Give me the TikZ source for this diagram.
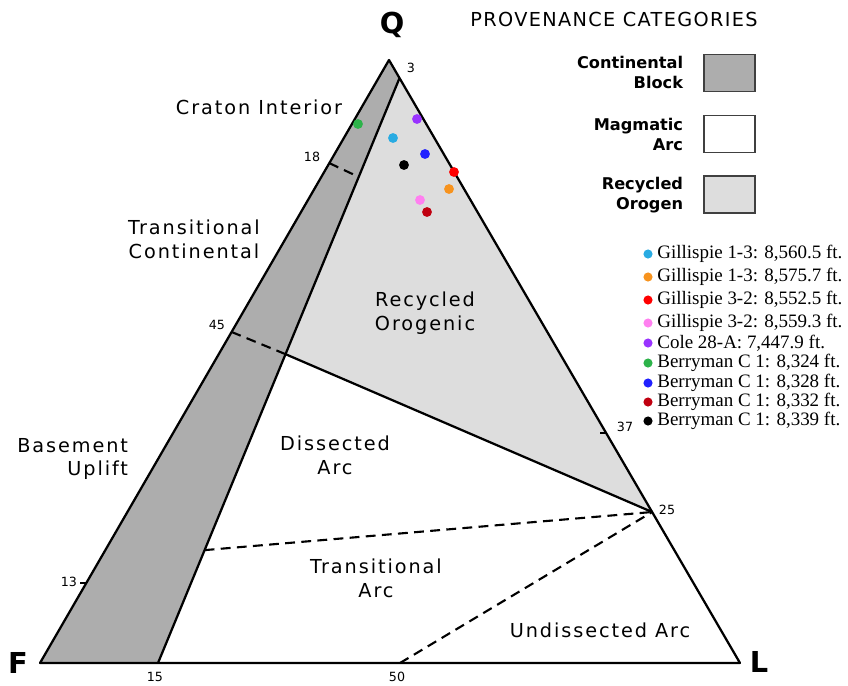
\documentclass[tikz,border=0pt]{standalone}
\usepackage{fontspec}
\setmainfont{DejaVu Sans}
\newfontfamily\keyfont{Liberation Serif}
\usetikzlibrary{calc}
\definecolor{block}{HTML}{ADADAD}
\definecolor{orogen}{HTML}{DDDDDD}
\definecolor{ptcyan}{HTML}{29ABE2}
\definecolor{ptorange}{HTML}{F7931E}
\definecolor{ptred}{HTML}{FF0000}
\definecolor{ptpink}{HTML}{FF80F0}
\definecolor{ptpurple}{HTML}{9933FF}
\definecolor{ptgreen}{HTML}{2DB34A}
\definecolor{ptblue}{HTML}{2020FF}
\definecolor{ptdarkred}{HTML}{C00010}
\tikzset{
  edge/.style={draw=black, line width=1.6pt, line join=round},
  split/.style={draw=black, line width=1.5pt, dash pattern=on 7pt off 4.5pt},
  tick/.style={draw=black, line width=1.1pt},
  dot/.style={circle, inner sep=0pt, minimum size=7pt},
  keydot/.style={circle, inner sep=0pt, minimum size=6.5pt},
  corner/.style={font=\bfseries\fontsize{20.5}{24}\selectfont},
  num/.style={font=\fontsize{9}{11}\selectfont, inner sep=1pt},
  region/.style={font=\fontsize{13.7}{17}\selectfont\addfontfeatures{LetterSpace=10}, align=center},
  heading/.style={font=\fontsize{13.7}{17}\selectfont\addfontfeatures{LetterSpace=7}},
  cat/.style={font=\bfseries\fontsize{11.5}{14.2}\selectfont, align=right, anchor=east},
  swatch/.style={draw=black!75, line width=0.9pt, minimum width=36.3pt, minimum height=26.3pt, inner sep=0pt},
  key/.style={font=\keyfont\fontsize{13.5}{15}\selectfont, inner sep=1.5pt, label distance=1.5pt},
}
\begin{document}
\begin{tikzpicture}[x=0.025cm, y=-0.025cm]
  \useasboundingbox (0,0) rectangle (848,685);
  % triangle corners
  \coordinate (Q) at (389,60);
  \coordinate (F) at (40,663);
  \coordinate (L) at (740,663);
  % boundary points
  \coordinate (T3) at ($(Q)!0.03!(L)$);
  \coordinate (B15) at (158,663);
  \coordinate (P25) at ($(Q)!0.7496!(L)$);
  \coordinate (P37) at ($(Q)!0.619!(L)$);
  \coordinate (B50) at (400,663);
  \coordinate (O18) at ($(Q)!0.171!(F)$);
  \coordinate (O45) at ($(Q)!0.451!(F)$);
  \coordinate (O13) at ($(Q)!0.867!(F)$);
  \coordinate (I18) at ($(T3)!0.169!(B15)$);
  \coordinate (I45) at ($(T3)!0.472!(B15)$);
  \coordinate (I80) at ($(T3)!0.807!(B15)$);

  \fill[block] (Q) -- (T3) -- (B15) -- (F) -- cycle;
  \fill[orogen] (T3) -- (P25) -- (I45) -- cycle;
  \draw[edge] (Q) -- (F) -- (L) -- cycle;
  \draw[edge] (T3) -- (B15);
  \draw[edge] (I45) -- (P25);
  \draw[split] (O18) -- (I18);
  \draw[split] (O45) -- (I45);
  \draw[split] (I80) -- (P25);
  \draw[split] (B50) -- (P25);
  \draw[tick] (O13) -- ++(-6,0);
  \draw[tick] (P37) -- ++(-6,0);

  \node[corner] (q) at (392,25) {Q};
  \node[corner] (f) at (18,663) {F};
  \node[corner] (l) at (759,662) {L};

  \node[num] (n3) at (411,68) {3};
  \node[num] (n18) at (312,157) {18};
  \node[num] (n45) at (217,325) {45};
  \node[num] (n37) at (625,427) {37};
  \node[num] (n25) at (667,510) {25};
  \node[num] (n13) at (69,582) {13};
  \node[num] (n15) at (155,677) {15};
  \node[num] (n50) at (397,677) {50};

  \node[region] (craton) at (259,107) {Craton Interior};
  \node[region] (transcont) at (194,239) {Transitional\\Continental};
  \node[region] (recyc) at (425,313) {Recycled\\Orogenic};
  \node[region, align=right, anchor=east] (basement) at (133,459) {Basement\\Uplift};
  \node[region] (dissected) at (335,455) {Dissected\\Arc};
  \node[region] (transarc) at (376,578) {Transitional\\Arc};
  \node[region] (undiss) at (600,630) {Undissected Arc};

  % legend
  \node[heading] (provtitle) at (614,19) {PROVENANCE CATEGORIES};
  \node[cat] (cblock) at (688,72) {Continental\\Block};
  \node[cat] (marc) at (688,134) {Magmatic\\Arc};
  \node[cat] (rorog) at (688,195) {Recycled\\Orogen};
  \node[swatch, fill=block] (swblock) at (729.5,73) {};
  \node[swatch, fill=white] (swarc) at (729.5,134) {};
  \node[swatch, fill=orogen] (sworog) at (729.5,194.5) {};

  \node[keydot, fill=ptcyan, label={[key]right:Gillispie 1-3: 8,560.5 ft.}] (k1) at (648,254) {};
  \node[keydot, fill=ptorange, label={[key]right:Gillispie 1-3: 8,575.7 ft.}] (k2) at (648,277) {};
  \node[keydot, fill=ptred, label={[key]right:Gillispie 3-2: 8,552.5 ft.}] (k3) at (648,300) {};
  \node[keydot, fill=ptpink, label={[key]right:Gillispie 3-2: 8,559.3 ft.}] (k4) at (648,323) {};
  \node[keydot, fill=ptpurple, label={[key]right:Cole 28-A: 7,447.9 ft.}] (k5) at (648,343) {};
  \node[keydot, fill=ptgreen, label={[key]right:Berryman C 1: 8,324 ft.}] (k6) at (648,363) {};
  \node[keydot, fill=ptblue, label={[key]right:Berryman C 1: 8,328 ft.}] (k7) at (648,383) {};
  \node[keydot, fill=ptdarkred, label={[key]right:Berryman C 1: 8,332 ft.}] (k8) at (648,402) {};
  \node[keydot, fill=black, label={[key]right:Berryman C 1: 8,339 ft.}] (k9) at (648,421) {};

  % samples
  \node[dot, fill=ptgreen] (s6) at (358,124) {};
  \node[dot, fill=ptpurple] (s5) at (417,119) {};
  \node[dot, fill=ptcyan] (s1) at (393,138) {};
  \node[dot, fill=ptblue] (s7) at (425,154) {};
  \node[dot, fill=black] (s9) at (404,165) {};
  \node[dot, fill=ptred] (s3) at (454,172) {};
  \node[dot, fill=ptorange] (s2) at (449,189) {};
  \node[dot, fill=ptpink] (s4) at (420,200) {};
  \node[dot, fill=ptdarkred] (s8) at (427,212) {};
\end{tikzpicture}
\end{document}
